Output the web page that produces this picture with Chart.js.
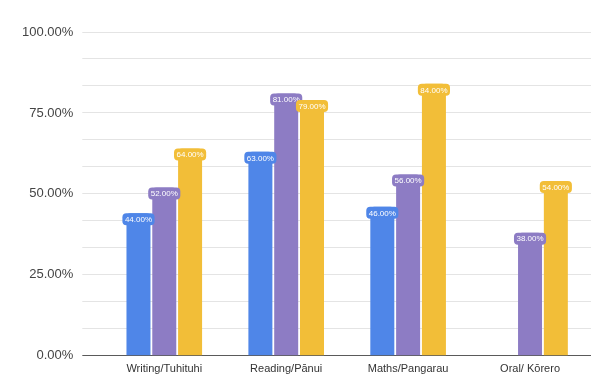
<!DOCTYPE html>
<html>
<head>
<meta charset="utf-8">
<script src="https://cdn.jsdelivr.net/npm/chart.js@4/dist/chart.umd.min.js"></script>
<style>
  html, body { margin: 0; padding: 0; background: #ffffff; }
  #wrap { width: 592px; height: 377px; position: relative; }
</style>
</head>
<body>
<div id="wrap"><canvas id="chart"></canvas></div>
<script>
// Subjects along the x axis
const categories = ['Writing/Tuhituhi', 'Reading/Pānui', 'Maths/Pangarau', 'Oral/ Kōrero'];

// Percentages for each of the three series (null = no bar)
const series1 = [44, 63, 46, null];
const series2 = [52, 81, 56, 38];
const series3 = [64, 79, 84, 54];

// Labelled y ticks; two unlabelled minor lines sit between each pair
const yTickLabels = ['0.00%', '25.00%', '50.00%', '75.00%', '100.00%'];
const minorPerMajor = 3;

const colors = ['#4f86e8', '#8d7cc4', '#f2be38'];

// Rounded value tags drawn at the top end of every bar
const valueTags = {
  id: 'valueTags',
  afterDatasetsDraw(chart) {
    const ctx = chart.ctx;
    ctx.save();
    ctx.font = '8px "Liberation Sans", Arial, sans-serif';
    ctx.textAlign = 'center';
    ctx.textBaseline = 'middle';
    chart.data.datasets.forEach((ds, di) => {
      const meta = chart.getDatasetMeta(di);
      meta.data.forEach((bar, i) => {
        const v = ds.data[i];
        if (v === null || v === undefined) return;
        const text = v.toFixed(2) + '%';
        const w = ctx.measureText(text).width + 5;
        const h = 12;
        const x = bar.x - w / 2;
        const y = bar.y;
        ctx.fillStyle = ds.backgroundColor;
        ctx.beginPath();
        ctx.roundRect(x, y, w, h, 4);
        ctx.fill();
        ctx.fillStyle = '#ffffff';
        ctx.fillText(text, bar.x, y + h / 2 + 0.5);
      });
    });
    ctx.restore();
  }
};

const makeSet = (data, color) => ({
  data: data,
  backgroundColor: color,
  borderRadius: { topLeft: 4, topRight: 4, bottomLeft: 0, bottomRight: 0 },
  borderSkipped: 'bottom',
  categoryPercentage: 0.635,
  barPercentage: 0.93
});

new Chart(document.getElementById('chart'), {
  type: 'bar',
  data: {
    labels: categories,
    datasets: [
      makeSet(series1, colors[0]),
      makeSet(series2, colors[1]),
      makeSet(series3, colors[2])
    ]
  },
  options: {
    responsive: true,
    maintainAspectRatio: false,
    animation: false,
    layout: { padding: { top: 32, left: 13, right: 1, bottom: -6 } },
    plugins: {
      legend: { display: false },
      tooltip: { enabled: false }
    },
    scales: {
      x: {
        grid: { display: false, drawTicks: false },
        border: { display: false },
        ticks: {
          padding: 7,
          color: '#333333',
          font: { family: '"Liberation Sans", Arial, sans-serif', size: 11 }
        }
      },
      y: {
        min: 0,
        max: 100,
        afterBuildTicks(scale) {
          const n = (yTickLabels.length - 1) * minorPerMajor;
          const ticks = [];
          for (let i = 0; i <= n; i++) ticks.push({ value: 100 * i / n });
          scale.ticks = ticks;
        },
        border: { display: false },
        grid: {
          tickLength: 21,
          color: (c) => (c.index === 0 ? '#5a5a5a' : '#e4e4e4'),
          lineWidth: 1
        },
        ticks: {
          padding: 9,
          color: '#444444',
          font: { family: '"Liberation Sans", Arial, sans-serif', size: 13 },
          callback: (value, index) =>
            index % minorPerMajor === 0 ? yTickLabels[index / minorPerMajor] : ''
        }
      }
    }
  },
  plugins: [valueTags]
});
</script>
</body>
</html>
